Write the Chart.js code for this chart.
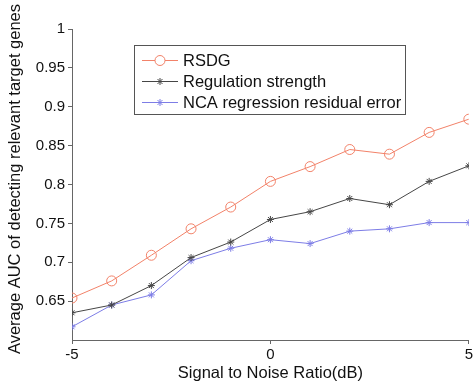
<!DOCTYPE html>
<html>
<head>
<meta charset="utf-8">
<script src="https://cdn.jsdelivr.net/npm/chart.js@4.4.1/dist/chart.umd.min.js"></script>
<style>
  html, body { margin: 0; padding: 0; background: #fff; }
  #wrap { width: 475px; height: 387px; }
</style>
</head>
<body>
<div id="wrap"><canvas id="chart" width="475" height="387"></canvas></div>
<script>
// values
const snr = [-5, -4, -3, -2, -1, 0, 1, 2, 3, 4, 5];
const rsdg = [0.654, 0.676, 0.709, 0.743, 0.771, 0.804, 0.823, 0.845, 0.839, 0.867, 0.884];
const regStrength = [0.635, 0.645, 0.670, 0.706, 0.726, 0.755, 0.765, 0.782, 0.774, 0.804, 0.824];
const ncaResidual = [0.617, 0.645, 0.658, 0.702, 0.718, 0.729, 0.724, 0.740, 0.743, 0.751, 0.751];
const yTicks = [0.65, 0.7, 0.75, 0.8, 0.85, 0.9, 0.95, 1];
const xTicks = [-5, 0, 5];
const yTitle = "Average AUC of detecting relevant target genes";

const font = "Arial, 'Liberation Sans', sans-serif";

const toPoints = (ys) => ys.map((y, i) => ({ x: snr[i], y: y }));

// rotated y title, placed by hand so it can run past the plot like the original
const sideTitle = {
  id: "sideTitle",
  afterDraw(chart) {
    const ctx = chart.ctx;
    ctx.save();
    ctx.translate(15, 179);
    ctx.rotate(-Math.PI / 2);
    ctx.font = "16.5px " + font;
    ctx.fillStyle = "#111";
    ctx.textAlign = "center";
    ctx.textBaseline = "middle";
    ctx.fillText(yTitle, 0, 0);
    ctx.restore();
  }
};

// legend box inside the plot, drawn from the dataset labels
const boxLegend = {
  id: "boxLegend",
  afterDraw(chart) {
    const ctx = chart.ctx;
    const left = 134, top = 45, w = 271, h = 69;
    ctx.save();
    ctx.fillStyle = "#fff";
    ctx.fillRect(left, top, w, h);
    ctx.strokeStyle = "#555";
    ctx.lineWidth = 1;
    ctx.strokeRect(left + 0.5, top + 0.5, w, h);
    ctx.font = "16.5px " + font;
    ctx.textBaseline = "middle";
    chart.data.datasets.forEach((ds, i) => {
      const y = top + 15 + i * 21;
      ctx.strokeStyle = ds.borderColor;
      ctx.beginPath();
      ctx.moveTo(142, y + 0.5);
      ctx.lineTo(178, y + 0.5);
      ctx.stroke();
      Chart.helpers.drawPoint(ctx, {
        pointStyle: ds.pointStyle,
        radius: ds.pointRadius,
        borderWidth: 1
      }, 160, y + 0.5);
      ctx.fillStyle = "#111";
      ctx.fillText(ds.label, 183, y + 1);
    });
    ctx.restore();
  }
};

new Chart(document.getElementById("chart"), {
  type: "line",
  data: {
    datasets: [
      {
        label: "RSDG",
        data: toPoints(rsdg),
        borderColor: "rgb(242,130,105)",
        backgroundColor: "rgba(0,0,0,0)",
        pointStyle: "circle",
        pointRadius: 5,
        pointBorderWidth: 1,
        borderWidth: 1
      },
      {
        label: "Regulation strength",
        data: toPoints(regStrength),
        borderColor: "rgb(70,70,70)",
        backgroundColor: "rgba(0,0,0,0)",
        pointStyle: "star",
        pointRadius: 3.5,
        pointBorderWidth: 1,
        borderWidth: 1
      },
      {
        label: "NCA regression residual error",
        data: toPoints(ncaResidual),
        borderColor: "rgb(125,125,230)",
        backgroundColor: "rgba(0,0,0,0)",
        pointStyle: "star",
        pointRadius: 3.5,
        pointBorderWidth: 1,
        borderWidth: 1
      }
    ]
  },
  options: {
    responsive: false,
    animation: false,
    layout: { padding: { top: 29, right: 6, left: 0, bottom: 0 } },
    plugins: { legend: { display: false }, tooltip: { enabled: false } },
    scales: {
      x: {
        type: "linear",
        min: -5,
        max: 5,
        afterFit: (s) => { s.height = 47; },
        afterBuildTicks: (s) => { s.ticks = xTicks.map((v) => ({ value: v })); },
        grid: { drawOnChartArea: false, drawTicks: true, tickLength: 4, color: "#666" },
        border: { color: "#666" },
        ticks: { color: "#111", font: { family: font, size: 15 }, padding: 2, maxRotation: 0 },
        title: { display: true, text: "Signal to Noise Ratio(dB)", color: "#111", font: { family: font, size: 16.5 }, padding: { top: 1 } }
      },
      y: {
        min: 0.6,
        max: 1,
        afterFit: (s) => { s.width = 72; },
        afterBuildTicks: (s) => { s.ticks = yTicks.map((v) => ({ value: v })); },
        grid: { drawOnChartArea: false, drawTicks: true, tickLength: 4, color: "#666" },
        border: { color: "#666" },
        ticks: { color: "#111", font: { family: font, size: 15 }, padding: 3, callback: (v) => String(v) }
      }
    }
  },
  plugins: [boxLegend, sideTitle]
});
</script>
</body>
</html>
